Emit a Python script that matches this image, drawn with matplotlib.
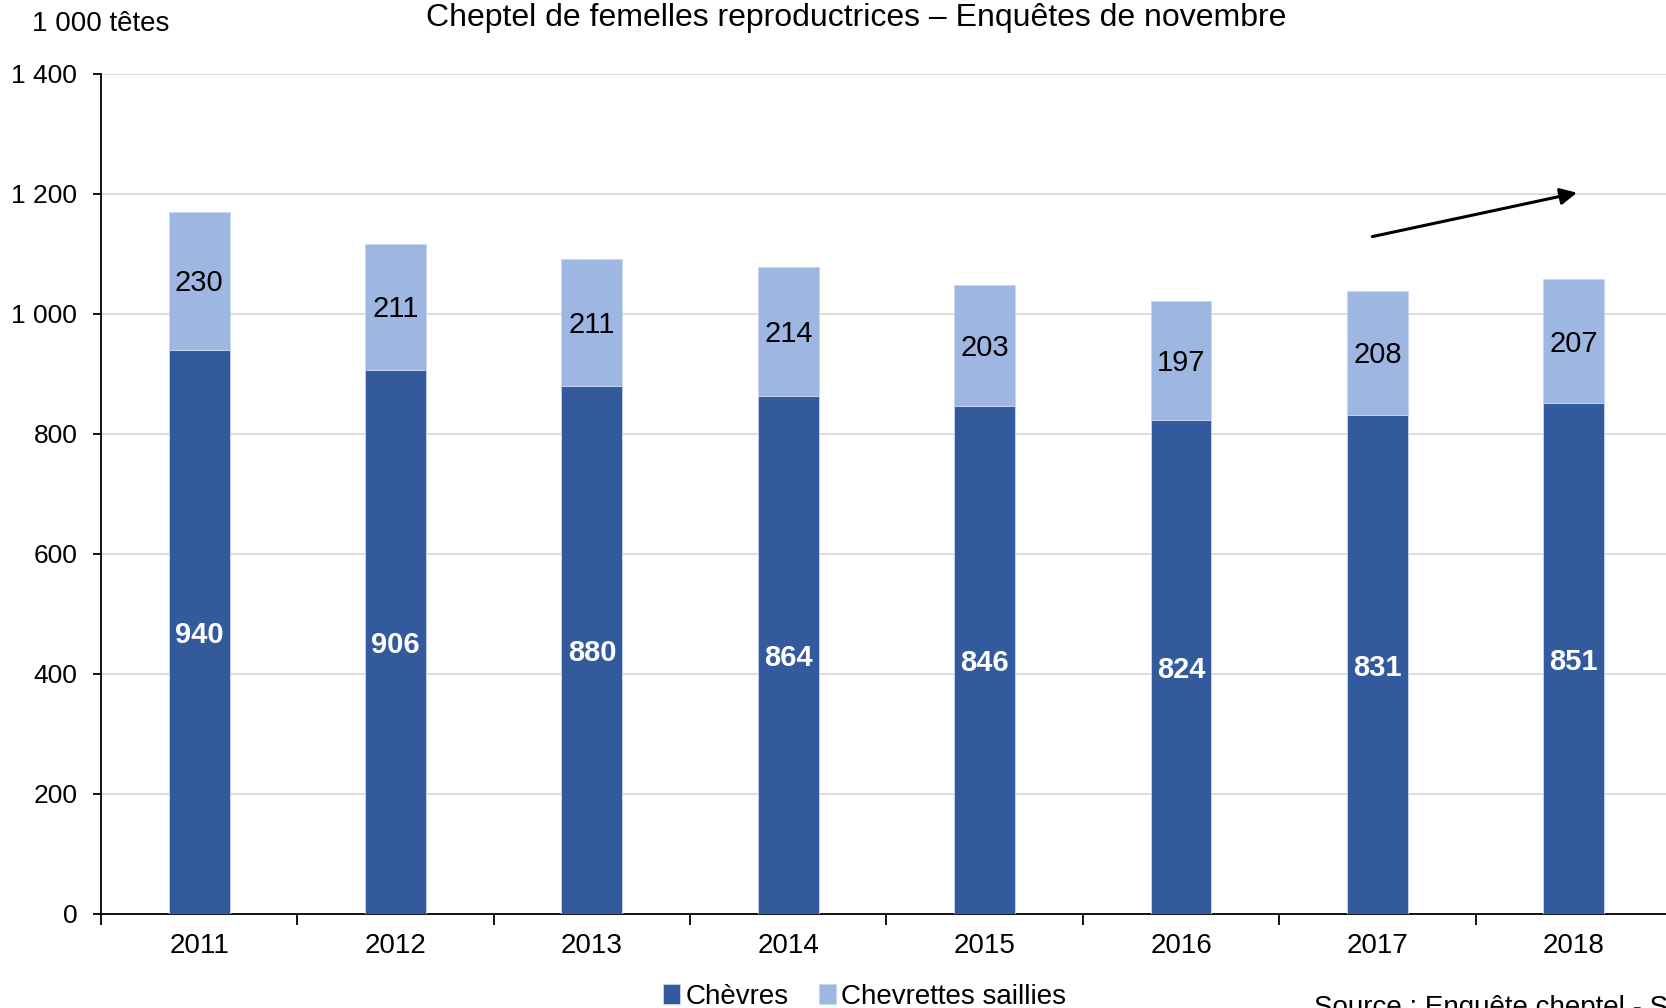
import matplotlib.pyplot as plt
from matplotlib.ticker import FixedLocator

plt.rcParams['font.family'] = ['Liberation Sans', 'DejaVu Sans']

years = ['2011', '2012', '2013', '2014', '2015', '2016', '2017', '2018']
chevres = [940, 906, 880, 864, 846, 824, 831, 851]
chevrettes = [230, 211, 211, 214, 203, 197, 208, 207]
yticks = [0, 200, 400, 600, 800, 1000, 1200, 1400]
ylabels = ['0', '200', '400', '600', '800', '1 000', '1 200', '1 400']

dark = '#335A9D'
light = '#9EB6E2'

fig = plt.figure(figsize=(16.66, 10.08), dpi=100)
ax = fig.add_axes([0.0606, 0.0933, 0.9430, 0.8333])

x = list(range(len(years)))
b1 = ax.bar(x, chevres, width=0.31, color=dark, edgecolor='#C9D6EE', linewidth=0.6, zorder=3)
b2 = ax.bar(x, chevrettes, width=0.31, bottom=chevres, color=light,
            edgecolor='#C9D6EE', linewidth=0.6, zorder=3)

for i in x:
    ax.text(i, chevres[i] / 2 - 5, str(chevres[i]), ha='center', va='center',
            color='white', fontsize=21, fontweight='bold', zorder=4)
    ax.text(i, chevres[i] + chevrettes[i] / 2 - 4, str(chevrettes[i]), ha='center',
            va='center', color='black', fontsize=21, zorder=4)

ax.set_xlim(-0.5, 7.5)
ax.set_ylim(0, 1400)
ax.set_yticks(yticks)
ax.set_yticklabels(ylabels, fontsize=19)
ax.yaxis.grid(True, color='#D9D9D9', linewidth=1.3, zorder=0)
ax.set_xticks(x)
ax.set_xticklabels(years, fontsize=20)
ax.tick_params(axis='x', which='major', length=0, pad=14)
ax.xaxis.set_minor_locator(FixedLocator([i + 0.5 for i in range(-1, 8)]))
ax.tick_params(axis='x', which='minor', length=8, width=1.3, direction='out')
ax.tick_params(axis='y', length=6, width=1.3, pad=11)
for s in ['top', 'right']:
    ax.spines[s].set_visible(False)
ax.spines['left'].set_linewidth(1.3)
ax.spines['bottom'].set_linewidth(1.3)

# tendance
ax.annotate('', xy=(7.03, 1203), xytext=(5.96, 1128),
            arrowprops=dict(arrowstyle='-|>', color='black', lw=2.2,
                            mutation_scale=25), zorder=5)

fig.text(0.514, 0.982, 'Cheptel de femelles reproductrices \u2013 Enquêtes de novembre',
         ha='center', va='center', fontsize=23)
fig.text(0.019, 0.976, '1 000 têtes', ha='left', va='center', fontsize=20)

fig.legend([b1, b2], ['Chèvres', 'Chevrettes saillies'], loc='center',
           bbox_to_anchor=(0.519, 0.011), ncol=2, frameon=False, fontsize=20,
           handlelength=0.6, handleheight=0.7, handletextpad=0.2, columnspacing=1.1)
fig.text(0.789, 0.0, 'Source : Enquête cheptel - SSP', ha='left', va='center', fontsize=20)

fig.savefig('out.png', dpi=100)
